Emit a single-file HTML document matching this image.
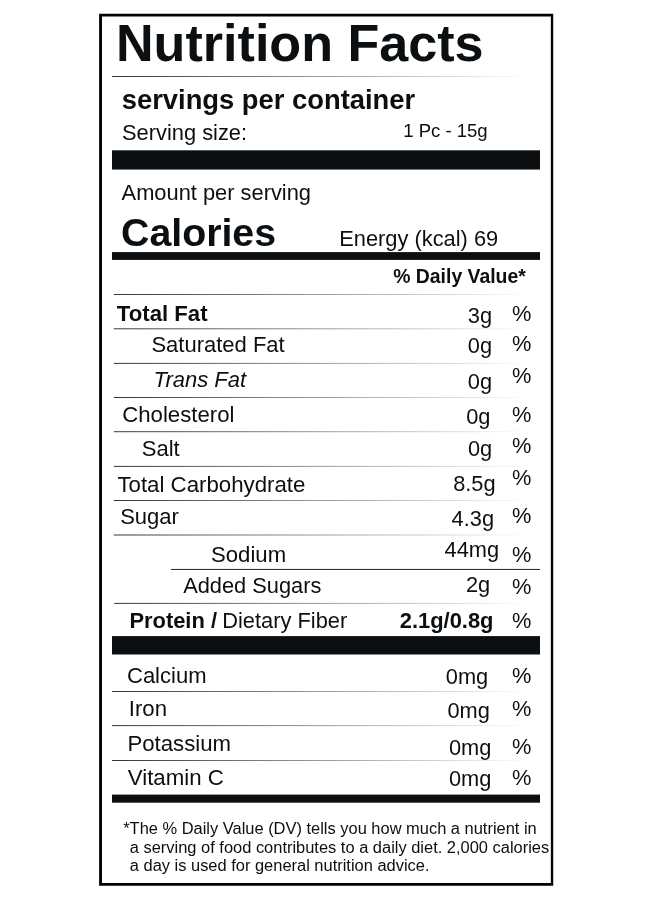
<!DOCTYPE html>
<html lang="en">
<head>
<meta charset="utf-8">
<title>Nutrition Facts</title>
<style>
html,body{margin:0;padding:0;background:#fff;}
body{width:660px;height:900px;position:relative;overflow:hidden;font-family:"Liberation Sans",Arial,sans-serif;color:#0c0f11;}
svg.shapes{position:absolute;left:0;top:0;width:660px;height:900px;display:block;}
.t{position:absolute;white-space:nowrap;line-height:1;margin:0;padding:0;}
.b{font-weight:bold;}
.i{font-style:italic;}
</style>
</head>
<body>
<svg class="shapes" width="660" height="900" viewBox="0 0 660 900">
<defs>
<linearGradient id="fade" gradientUnits="userSpaceOnUse" x1="112" y1="0" x2="528" y2="0">
<stop offset="0" stop-color="#0c0f11" stop-opacity="0.84"/>
<stop offset="1" stop-color="#0c0f11" stop-opacity="0"/>
</linearGradient>
</defs>
<path fill="#020303" fill-rule="evenodd" d="M99.1 13.8H553.2V885.8H99.1Z M102 16.4H550.85V883.1H102Z"/>
<rect x="112" y="150.3" width="428" height="19.25" fill="#0c0f11"/>
<rect x="112" y="252.1" width="428" height="7.80" fill="#0c0f11"/>
<rect x="112" y="636.1" width="428" height="18.40" fill="#0c0f11"/>
<rect x="112" y="794.6" width="428" height="8.10" fill="#0c0f11"/>
<rect x="112" y="76.00" width="418" height="1" fill="url(#fade)"/>
<rect x="113.8" y="294.00" width="416.2" height="1" fill="url(#fade)"/>
<rect x="113.8" y="328.30" width="416.2" height="1" fill="url(#fade)"/>
<rect x="113.8" y="362.90" width="416.2" height="1" fill="url(#fade)"/>
<rect x="113.8" y="397.00" width="416.2" height="1" fill="url(#fade)"/>
<rect x="113.8" y="431.20" width="416.2" height="1" fill="url(#fade)"/>
<rect x="113.8" y="465.90" width="416.2" height="1" fill="url(#fade)"/>
<rect x="113.8" y="500.00" width="416.2" height="1" fill="url(#fade)"/>
<rect x="113.8" y="534.50" width="416.2" height="1" fill="url(#fade)"/>
<rect x="114.2" y="602.90" width="415.8" height="1" fill="url(#fade)"/>
<rect x="112" y="691.00" width="418" height="1" fill="url(#fade)"/>
<rect x="112" y="725.10" width="418" height="1" fill="url(#fade)"/>
<rect x="112" y="760.00" width="418" height="1" fill="url(#fade)"/>
<rect x="171" y="568.95" width="369" height="1" fill="#0c0f11" fill-opacity="0.9"/>
</svg>
<div class="t b" id="t0" style="left:116.00px;top:16.90px;font-size:52.1px">Nutrition Facts</div>
<div class="t b" id="t1" style="left:121.80px;top:85.65px;font-size:27.35px">servings per container</div>
<div class="t" id="t2" style="left:122.00px;top:121.50px;font-size:21.85px">Serving size:</div>
<div class="t" id="t3" style="left:403.20px;top:121.50px;font-size:18.55px">1 Pc - 15g</div>
<div class="t" id="t4" style="left:121.60px;top:182.30px;font-size:21.85px">Amount per serving</div>
<div class="t b" id="t5" style="left:121.00px;top:213.43px;font-size:39.3px">Calories</div>
<div class="t" id="t6" style="left:339.20px;top:228.30px;font-size:21.85px">Energy (kcal) 69</div>
<div class="t b" id="t7" style="left:393.20px;top:266.58px;font-size:19.4px">% Daily Value*</div>
<div class="t b" id="t8" style="left:116.80px;top:303.21px;font-size:22.2px">Total Fat</div>
<div class="t" id="t9" style="left:151.40px;top:333.68px;font-size:22.0px">Saturated Fat</div>
<div class="t i" id="t10" style="left:153.60px;top:368.68px;font-size:22.0px">Trans Fat</div>
<div class="t" id="t11" style="left:122.20px;top:404.21px;font-size:22.2px">Cholesterol</div>
<div class="t" id="t12" style="left:141.80px;top:437.98px;font-size:22.0px">Salt</div>
<div class="t" id="t13" style="left:117.40px;top:473.56px;font-size:22.26px">Total Carbohydrate</div>
<div class="t" id="t14" style="left:120.20px;top:506.48px;font-size:22.0px">Sugar</div>
<div class="t" id="t15" style="left:211.00px;top:543.55px;font-size:22.15px">Sodium</div>
<div class="t" id="t16" style="left:183.20px;top:575.25px;font-size:21.8px">Added Sugars</div>
<div class="t b" id="t17" style="left:129.40px;top:610.06px;font-size:21.9px">Protein /</div>
<div class="t" id="t18" style="left:222.20px;top:609.90px;font-size:21.85px">Dietary Fiber</div>
<div class="t" id="t19" style="left:127.00px;top:665.48px;font-size:22.0px">Calcium</div>
<div class="t" id="t20" style="left:128.80px;top:698.31px;font-size:22.2px">Iron</div>
<div class="t" id="t21" style="left:127.40px;top:733.01px;font-size:22.2px">Potassium</div>
<div class="t" id="t22" style="left:127.80px;top:766.97px;font-size:22.25px">Vitamin C</div>
<div class="t" id="t23" style="left:467.80px;top:304.75px;font-size:21.8px">3g</div>
<div class="t" id="t24" style="left:467.80px;top:334.75px;font-size:21.8px">0g</div>
<div class="t" id="t25" style="left:467.80px;top:370.65px;font-size:21.8px">0g</div>
<div class="t" id="t26" style="left:466.20px;top:406.15px;font-size:21.8px">0g</div>
<div class="t" id="t27" style="left:468.00px;top:438.35px;font-size:21.8px">0g</div>
<div class="t" id="t28" style="left:453.20px;top:472.95px;font-size:21.8px">8.5g</div>
<div class="t" id="t29" style="left:451.60px;top:508.45px;font-size:21.8px">4.3g</div>
<div class="t" id="t30" style="left:444.60px;top:539.15px;font-size:21.8px">44mg</div>
<div class="t" id="t31" style="left:466.00px;top:574.05px;font-size:21.8px">2g</div>
<div class="t b" id="t32" style="left:399.80px;top:610.16px;font-size:21.9px">2.1g/0.8g</div>
<div class="t" id="t33" style="left:445.80px;top:666.15px;font-size:21.8px">0mg</div>
<div class="t" id="t34" style="left:447.40px;top:699.55px;font-size:21.8px">0mg</div>
<div class="t" id="t35" style="left:449.00px;top:737.25px;font-size:21.8px">0mg</div>
<div class="t" id="t36" style="left:449.00px;top:767.95px;font-size:21.8px">0mg</div>
<div class="t" id="t37" style="left:512.00px;top:302.55px;font-size:21.8px">%</div>
<div class="t" id="t38" style="left:512.00px;top:332.55px;font-size:21.8px">%</div>
<div class="t" id="t39" style="left:512.00px;top:364.55px;font-size:21.8px">%</div>
<div class="t" id="t40" style="left:512.00px;top:403.55px;font-size:21.8px">%</div>
<div class="t" id="t41" style="left:512.00px;top:434.55px;font-size:21.8px">%</div>
<div class="t" id="t42" style="left:512.00px;top:466.55px;font-size:21.8px">%</div>
<div class="t" id="t43" style="left:512.00px;top:504.55px;font-size:21.8px">%</div>
<div class="t" id="t44" style="left:512.00px;top:543.55px;font-size:21.8px">%</div>
<div class="t" id="t45" style="left:512.00px;top:575.55px;font-size:21.8px">%</div>
<div class="t" id="t46" style="left:512.00px;top:609.55px;font-size:21.8px">%</div>
<div class="t" id="t47" style="left:512.00px;top:664.55px;font-size:21.8px">%</div>
<div class="t" id="t48" style="left:512.00px;top:697.55px;font-size:21.8px">%</div>
<div class="t" id="t49" style="left:512.00px;top:735.95px;font-size:21.8px">%</div>
<div class="t" id="t50" style="left:512.00px;top:766.55px;font-size:21.8px">%</div>
<div class="t" id="t51" style="left:123.20px;top:819.58px;font-size:16.45px">*The % Daily Value (DV) tells you how much a nutrient in</div>
<div class="t" id="t52" style="left:129.80px;top:839.08px;font-size:16.45px">a serving of food contributes to a daily diet. 2,000 calories</div>
<div class="t" id="t53" style="left:129.80px;top:856.78px;font-size:16.45px">a day is used for general nutrition advice.</div>
</body>
</html>
